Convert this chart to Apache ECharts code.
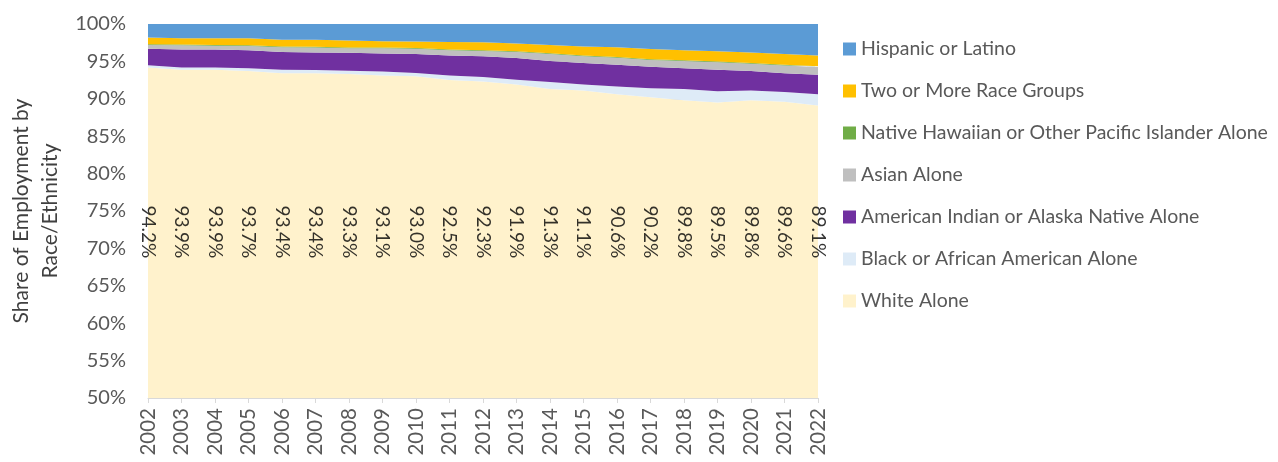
<!DOCTYPE html>
<html>
<head>
<meta charset="utf-8">
<script src="https://cdn.jsdelivr.net/npm/echarts@6/dist/echarts.min.js"></script>
<style>
  html, body { margin: 0; padding: 0; background: #fff; }
  #chart { width: 1278px; height: 462px; }
</style>
</head>
<body>
<div id="chart"></div>
<script>
// 年份
var years = ['2002', '2003', '2004', '2005', '2006', '2007', '2008', '2009', '2010', '2011',
    '2012', '2013', '2014', '2015', '2016', '2017', '2018', '2019', '2020', '2021', '2022'];

// 各族裔占比 (%)
var white = [94.2, 93.9, 93.9, 93.7, 93.4, 93.4, 93.3, 93.1, 93.0, 92.5, 92.3, 91.9, 91.3, 91.1, 90.6, 90.2, 89.8, 89.5, 89.8, 89.6, 89.1];
var black = [0.3, 0.3, 0.3, 0.4, 0.5, 0.45, 0.45, 0.55, 0.45, 0.6, 0.6, 0.65, 0.95, 0.8, 1.05, 1.2, 1.5, 1.5, 1.3, 1.3, 1.5];
var aian = [2.2, 2.4, 2.4, 2.4, 2.35, 2.35, 2.4, 2.4, 2.55, 2.7, 2.8, 2.9, 2.8, 2.9, 2.9, 2.9, 2.8, 2.9, 2.6, 2.5, 2.6];
var asian = [0.5, 0.55, 0.5, 0.55, 0.65, 0.65, 0.6, 0.7, 0.7, 0.7, 0.7, 0.8, 0.95, 0.9, 0.95, 0.9, 0.95, 1.0, 1.0, 1.05, 1.05];
var nhpi = [0.1, 0.1, 0.1, 0.1, 0.1, 0.1, 0.1, 0.1, 0.1, 0.1, 0.1, 0.1, 0.1, 0.1, 0.1, 0.1, 0.1, 0.1, 0.1, 0.1, 0.1];
var twoMore = [0.9, 0.85, 0.9, 0.95, 0.9, 0.95, 0.95, 0.85, 0.85, 1.0, 1.05, 1.05, 1.1, 1.2, 1.3, 1.35, 1.35, 1.35, 1.4, 1.45, 1.45];
var hispanic = [1.8, 1.9, 1.9, 1.9, 2.1, 2.1, 2.2, 2.3, 2.35, 2.4, 2.45, 2.6, 2.8, 3.0, 3.1, 3.35, 3.5, 3.65, 3.8, 4.0, 4.2];

// 数据标签所在的纵向位置
var labelLevel = 72.2;

var seriesDefs = [
    { name: 'White Alone', data: white, color: '#FFF2CC' },
    { name: 'Black or African American Alone', data: black, color: '#DEEBF7' },
    { name: 'American Indian or Alaska Native Alone', data: aian, color: '#7030A0' },
    { name: 'Asian Alone', data: asian, color: '#BFBFBF' },
    { name: 'Native Hawaiian or Other Pacific Islander Alone', data: nhpi, color: '#70AD47' },
    { name: 'Two or More Race Groups', data: twoMore, color: '#FFC000' },
    { name: 'Hispanic or Latino', data: hispanic, color: '#5B9BD5' }
];

var font = 'Lato, "Open Sans", sans-serif';

var series = seriesDefs.map(function (s) {
    return {
        name: s.name,
        type: 'line',
        stack: 'total',
        data: s.data,
        showSymbol: false,
        lineStyle: { width: 0 },
        itemStyle: { color: s.color },
        areaStyle: { color: s.color, opacity: 1 }
    };
});

// 白人占比标签
series.push({
    name: 'labels',
    type: 'scatter',
    symbolSize: 0,
    silent: true,
    z: 10,
    data: white.map(function (v, i) { return [i, labelLevel, v]; }),
    label: {
        show: true,
        position: 'inside',
        rotate: -90,
        color: '#000',
        fontFamily: font,
        fontSize: 19,
        formatter: function (p) { return p.value[2].toFixed(1) + '%'; }
    }
});

var chart = echarts.init(document.getElementById('chart'));
chart.setOption({
    animation: false,
    grid: { left: 148, right: 460, top: 24, bottom: 64, outerBoundsMode: 'none', containLabel: false },
    legend: {
        orient: 'vertical',
        left: 838,
        top: 34,
        itemWidth: 13,
        itemHeight: 13,
        itemGap: 22,
        icon: 'rect',
        data: seriesDefs.map(function (s) { return s.name; }).reverse(),
        textStyle: { color: '#595959', fontFamily: font, fontSize: 19.5, lineHeight: 20 }
    },
    xAxis: {
        type: 'category',
        data: years,
        boundaryGap: false,
        axisLine: { lineStyle: { color: '#d9d9d9' } },
        axisTick: { show: true, alignWithLabel: true, length: 5, lineStyle: { color: '#d9d9d9' } },
        axisLabel: { rotate: 90, margin: 10, color: '#595959', fontFamily: font, fontSize: 20.5 }
    },
    yAxis: {
        type: 'value',
        min: 50,
        max: 100,
        interval: 5,
        name: 'Share of Employment by\nRace/Ethnicity',
        nameLocation: 'middle',
        nameGap: 83,
        nameTextStyle: { color: '#404040', fontFamily: font, fontSize: 21, lineHeight: 29 },
        axisLine: { show: false },
        axisTick: { show: false },
        axisLabel: { formatter: '{value}%', margin: 22, color: '#595959', fontFamily: font, fontSize: 20 },
        splitLine: { lineStyle: { color: '#d9d9d9' } }
    },
    series: series
});
</script>
</body>
</html>
